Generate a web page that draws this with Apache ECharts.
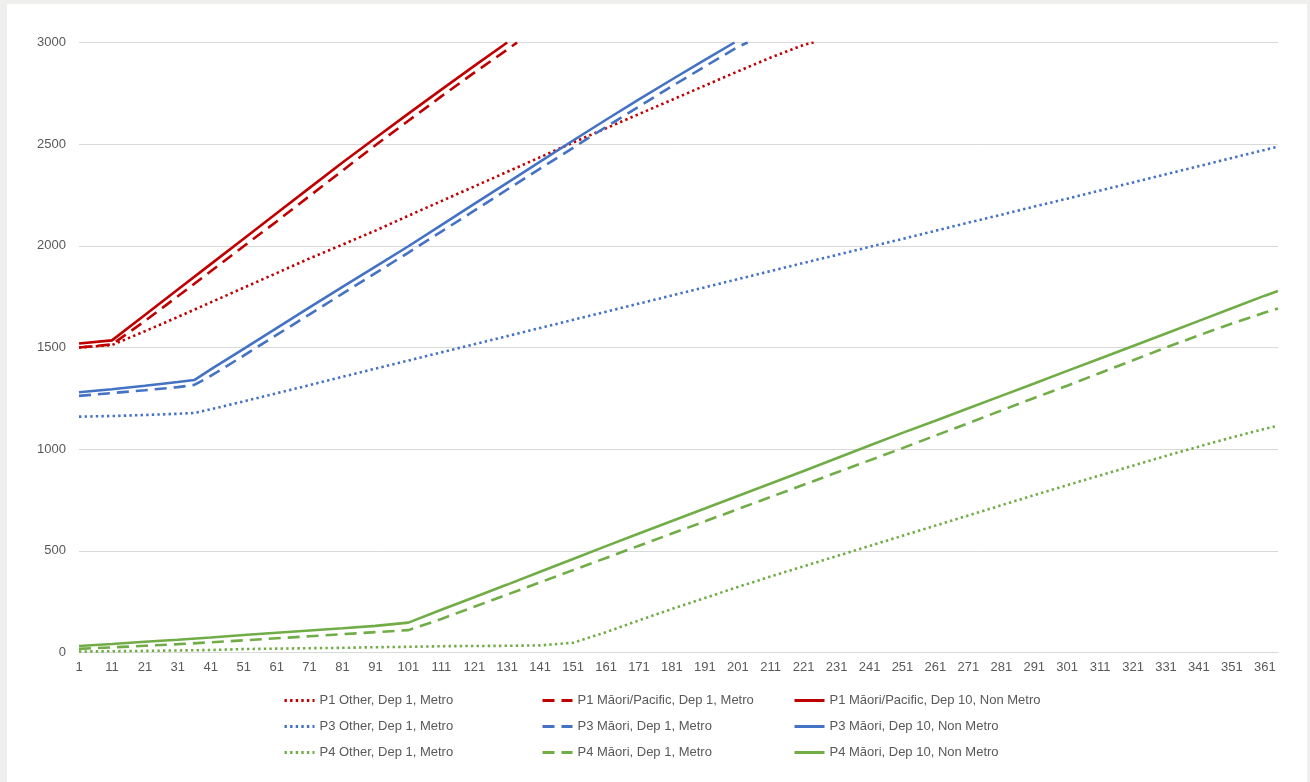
<!DOCTYPE html>
<html>
<head>
<meta charset="utf-8">
<script src="https://cdn.jsdelivr.net/npm/echarts@6/dist/echarts.min.js"></script>
<style>
  html, body { margin: 0; padding: 0; background: #efefee; width: 1310px; height: 782px; overflow: hidden; }
  #chart { position: absolute; left: 7px; top: 4px; width: 1300px; height: 778px; background: #ffffff; }
</style>
</head>
<body>
<div id="chart"></div>
<script>
// ---- Data ----
const categories = [];
for (let d = 1; d <= 365; d++) categories.push(String(d));

const yTicks = [0, 500, 1000, 1500, 2000, 2500, 3000];

const seriesNames = [
  'P1 Other, Dep 1, Metro',
  'P1 Māori/Pacific, Dep 1, Metro',
  'P1 Māori/Pacific, Dep 10, Non Metro',
  'P3 Other, Dep 1, Metro',
  'P3 Māori, Dep 1, Metro',
  'P3 Māori, Dep 10, Non Metro',
  'P4 Other, Dep 1, Metro',
  'P4 Māori, Dep 1, Metro',
  'P4 Māori, Dep 10, Non Metro'
];

// P1
const p1OtherDays = [1,11,21,31,41,51,61,71,81,91,101,111,121,131,141,151,161,171,181,191,201,211,221,224];
const p1OtherVals = [1500,1512,1580,1650,1722,1794,1866,1938,2006,2075,2148,2220,2292,2364,2436,2508,2578,2648,2718,2788,2858,2926,2988,3000];

const p1MPDep1Days = [1,11,21,31,41,51,61,71,81,91,101,111,121,131,134];
const p1MPDep1Vals = [1500,1515,1630,1752,1875,1998,2120,2245,2370,2495,2615,2735,2852,2965,3000];

const p1MPDep10Days = [1,11,21,31,41,51,61,71,81,91,101,111,121,131];
const p1MPDep10Vals = [1520,1535,1660,1785,1910,2035,2160,2285,2410,2530,2650,2768,2885,3000];

// P3
const p3OtherDays = [1,11,21,31,36,41,51,61,71,81,91,101,111,121,131,141,151,161,171,181,191,201,211,221,231,241,251,261,271,281,291,301,311,321,331,341,351,361,365];
const p3OtherVals = [1160,1163,1168,1174,1178,1196,1235,1275,1315,1356,1396,1436,1476,1516,1556,1596,1636,1676,1716,1756,1796,1836,1876,1916,1955,1995,2034,2074,2114,2153,2193,2232,2272,2312,2352,2392,2432,2472,2488];

const p3MDep1Days = [1,11,21,31,36,41,51,61,71,81,91,101,111,121,131,141,151,161,171,181,191,201,204];
const p3MDep1Vals = [1262,1276,1290,1305,1316,1360,1460,1562,1663,1765,1866,1967,2070,2173,2277,2380,2482,2585,2685,2785,2882,2978,3000];

const p3MDep10Days = [1,11,21,31,36,41,51,61,71,81,91,101,111,121,131,141,151,161,171,181,191,200];
const p3MDep10Vals = [1280,1295,1312,1330,1340,1392,1493,1595,1697,1798,1898,1998,2102,2206,2310,2414,2518,2620,2720,2818,2915,3000];

// P4
const p4Days = [1,11,21,31,41,51,61,71,81,91,101,111,121,131,141,151,161,171,181,191,201,211,221,231,241,251,261,271,281,291,301,311,321,331,341,351,361,365];
const p4OtherVals = [5,6,8,10,12,17,19,21,23,26,28,31,32,33,35,48,100,158,214,268,322,374,424,474,524,574,624,674,724,774,823,871,919,967,1013,1058,1100,1115];
const p4MDep1Vals = [18,25,33,41,50,60,70,80,90,100,110,165,225,285,345,405,465,525,585,645,705,765,825,885,945,1005,1067,1128,1190,1252,1312,1375,1437,1500,1560,1618,1672,1692];
const p4MDep10Vals = [32,42,53,63,74,86,97,108,119,131,147,210,272,334,397,460,523,585,647,708,770,831,893,955,1018,1080,1140,1201,1262,1323,1385,1446,1507,1569,1631,1693,1755,1778];

// ---- Styles ----
const RED = '#C00000', BLUE = '#4472C4', GREEN = '#70AD47';
const DOT = [2.4, 3.2];
const DASH = [12, 7];
const TXT = '#595959';
const FONT = 'Liberation Sans';
const FS = 13;

function pairs(days, vals) {
  return days.map((d, i) => [String(d), vals[i]]);
}
function mk(name, days, vals, color, type) {
  return {
    name: name,
    type: 'line',
    data: pairs(days, vals),
    symbol: 'none',
    showSymbol: false,
    clip: true,
    lineStyle: { color: color, width: 2.6, type: type, cap: 'butt' },
    itemStyle: { color: color },
    emphasis: { disabled: true }
  };
}

const series = [
  mk(seriesNames[0], p1OtherDays, p1OtherVals, RED, DOT),
  mk(seriesNames[1], p1MPDep1Days, p1MPDep1Vals, RED, DASH),
  mk(seriesNames[2], p1MPDep10Days, p1MPDep10Vals, RED, 'solid'),
  mk(seriesNames[3], p3OtherDays, p3OtherVals, BLUE, DOT),
  mk(seriesNames[4], p3MDep1Days, p3MDep1Vals, BLUE, DASH),
  mk(seriesNames[5], p3MDep10Days, p3MDep10Vals, BLUE, 'solid'),
  mk(seriesNames[6], p4Days, p4OtherVals, GREEN, DOT),
  mk(seriesNames[7], p4Days, p4MDep1Vals, GREEN, DASH),
  mk(seriesNames[8], p4Days, p4MDep10Vals, GREEN, 'solid')
];

function legend(left, names) {
  return {
    orient: 'vertical',
    left: left,
    top: 690,
    padding: 0,
    itemWidth: 30,
    itemHeight: 14,
    itemGap: 13,
    selectedMode: false,
    itemStyle: { opacity: 0 },
    lineStyle: { width: 3 },
    data: names,
    textStyle: { color: TXT, fontSize: FS, fontFamily: FONT }
  };
}

const chart = echarts.init(document.getElementById('chart'), null, { renderer: 'canvas' });
chart.setOption({
  animation: false,
  backgroundColor: '#ffffff',
  grid: { left: 72, right: 29, top: 38.5, bottom: 129.5, containLabel: false },
  xAxis: {
    type: 'category',
    data: categories,
    boundaryGap: false,
    axisLine: { show: true, lineStyle: { color: '#d9d9d9', width: 1 } },
    axisTick: { show: false },
    axisLabel: { interval: 9, color: TXT, fontSize: FS, fontFamily: FONT, margin: 8 },
    splitLine: { show: false }
  },
  yAxis: {
    type: 'value',
    min: yTicks[0],
    max: yTicks[yTicks.length - 1],
    interval: yTicks[1] - yTicks[0],
    axisLine: { show: false },
    axisTick: { show: false },
    axisLabel: { color: TXT, fontSize: FS, fontFamily: FONT, margin: 13, formatter: v => String(v) },
    splitLine: { show: true, lineStyle: { color: '#d9d9d9', width: 1 } }
  },
  legend: [
    legend(276, [seriesNames[0], seriesNames[3], seriesNames[6]]),
    legend(534, [seriesNames[1], seriesNames[4], seriesNames[7]]),
    legend(786, [seriesNames[2], seriesNames[5], seriesNames[8]])
  ],
  series: series
});
</script>
</body>
</html>
